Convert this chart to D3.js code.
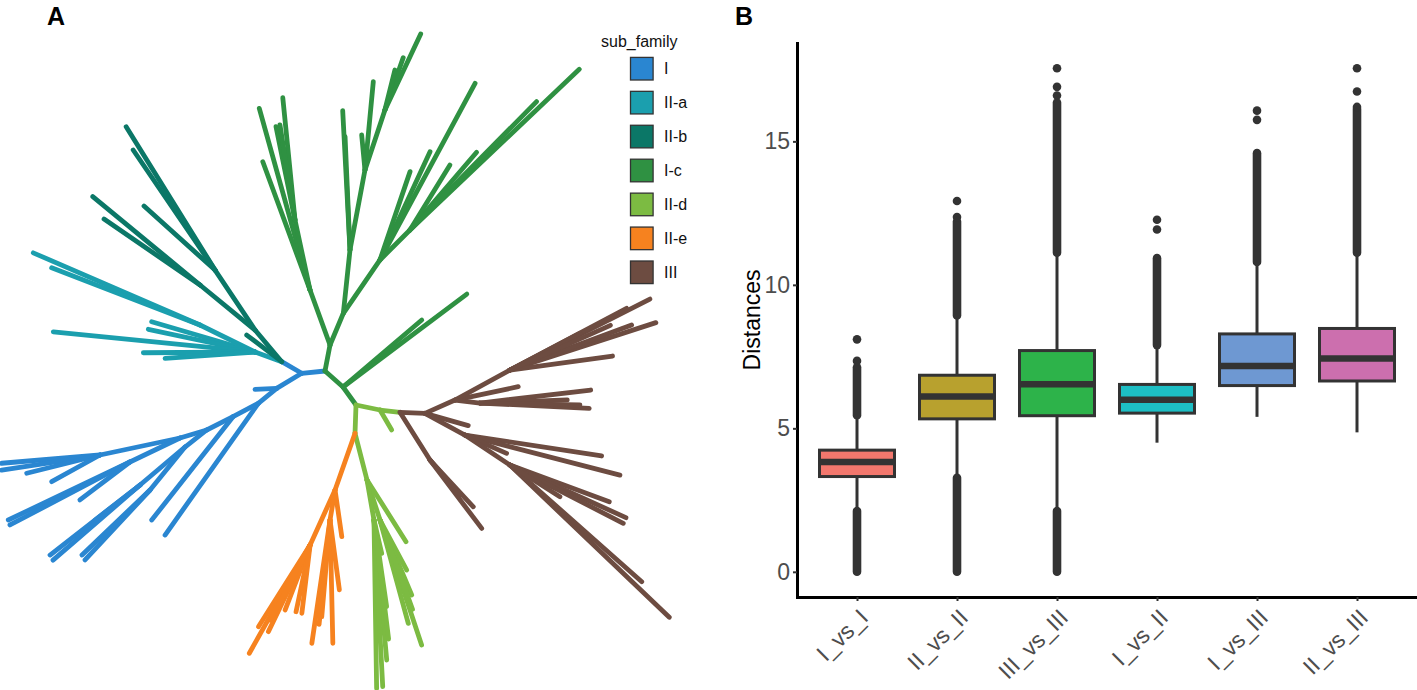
<!DOCTYPE html>
<html>
<head>
<meta charset="utf-8">
<script src="https://cdn.jsdelivr.net/npm/d3@7"></script>
<style>
  body { margin: 0; background: white; }
  text { font-family: "Liberation Sans", Arial, sans-serif; }
</style>
</head>
<body>
<main></main>
<script>
// ---- panel A: legend
var subFamilies = ["I", "II-a", "II-b", "I-c", "II-d", "II-e", "III"];
var subFamilyColors = ["#2A86D1", "#1B9FAE", "#0B7767", "#2F9142", "#7CBB42", "#F6821F", "#6D4C41"];

// ---- panel A: tree edges  [node, parent, branch length, angle (deg), sub_family]
var edgesI = [
    ["B0", "R", 0.234, 174.4, "I"], ["TA", "B0", 0.231, 210.1, "I"],
    ["B1", "B0", 0.292, 149, "I"], ["b1", "B1", 0.217, 177.4, "I"],
    ["B2", "B1", 0.237, 140.8, "I"], ["b2", "B2", 1.614, 125.3, "I"],
    ["B3", "B2", 0.286, 152.1, "I"], ["b3", "B3", 1.315, 128.2, "I"],
    ["B4", "B3", 0.295, 153.2, "I"],
    ["B5", "B4", 0.276, 141.9, "I"],
    ["B6", "B5", 0.589, 139.8, "I"], ["b4", "B6", 1.14, 142.1, "I"], ["b5", "B6", 1.149, 139.2, "I"],
    ["b4a", "B6", 0.57, 142, "I"],
    ["B7", "B5", 0.554, 129.1, "I"], ["b6", "B7", 0.941, 136.3, "I"], ["b7", "B7", 0.955, 132.9, "I"],
    ["B8", "B4", 0.279, 163.3, "I"],
    ["B9", "B8", 0.818, 168, "I"], ["b8", "B9", 0.986, 175.2, "I"], ["b9", "B9", 0.994, 171.3, "I"],
    ["b10", "B9", 0.755, 166, "I"], ["b11", "B9", 0.552, 151.1, "I"],
    ["B10", "B8", 0.555, 154.4, "I"], ["b12", "B10", 1.348, 154.5, "I"], ["b13", "B10", 1.355, 152.3, "I"],
    ["b14", "B10", 0.628, 142.8, "I"]
];
var edgesIIa = [
    ["TC", "TA", 0.284, 200, "II-a"], ["TD", "TC", 0.613, 206.1, "II-a"],
    ["ta1", "TD", 1.817, 203.4, "II-a"], ["ta2", "TD", 1.59, 201.1, "II-a"],
    ["ta3", "TC", 1.077, 196.3, "II-a"], ["ta4", "TC", 1.091, 192, "II-a"],
    ["ta5", "TC", 2.027, 185.7, "II-a"], ["ta6", "TC", 1.117, 179.6, "II-a"],
    ["ta7", "TC", 0.902, 176, "II-a"]
];
var edgesIIb = [
    ["tb0", "TA", 0.44, 217.3, "II-b"], ["T1", "TA", 0.414, 229.9, "II-b"],
    ["T2", "T1", 0.721, 236.3, "II-b"], ["tb1", "T2", 1.687, 238.2, "II-b"],
    ["tb2", "T2", 1.453, 235.7, "II-b"], ["tb3", "T2", 0.956, 222, "II-b"],
    ["T3", "T1", 0.711, 219.3, "II-b"], ["tb4", "T3", 1.39, 219.5, "II-b"],
    ["tb5", "T3", 1.165, 214.5, "II-b"]
];
var edgesIc = [
    ["G1", "R", 0.265, 280.9, "I-c"],
    ["GL1", "G1", 0.585, 250, "I-c"], ["gl1", "GL1", 1.886, 254.4, "I-c"], ["gl2", "GL1", 1.367, 249.8, "I-c"],
    ["GL2", "GL1", 0.716, 257.9, "I-c"], ["gl3", "GL2", 1.229, 264.3, "I-c"],
    ["gl4", "GL2", 0.952, 258.5, "I-c"], ["gl5", "GL2", 0.962, 261, "I-c"],
    ["G3", "G1", 0.344, 292.8, "I-c"],
    ["GM1", "G3", 0.637, 276, "I-c"], ["gm1", "GM1", 1.395, 267, "I-c"], ["gm2", "GM1", 1.134, 267.5, "I-c"],
    ["GM2", "GM1", 0.814, 280.6, "I-c"], ["gm3", "GM2", 0.887, 275.4, "I-c"], ["gm4", "GM2", 0.352, 264.6, "I-c"],
    ["GM3", "GM2", 0.632, 288.4, "I-c"], ["gm5", "GM3", 0.554, 289.3, "I-c"],
    ["gm6", "GM3", 0.84, 295.2, "I-c"], ["gm7", "GM3", 0.412, 284, "I-c"],
    ["GR1", "G3", 0.647, 304.5, "I-c"], ["gr1", "GR1", 2.006, 298.3, "I-c"],
    ["gr2", "GR1", 1.193, 294.8, "I-c"], ["gr3", "GR1", 0.933, 288.8, "I-c"],
    ["GR2", "GR1", 0.424, 315, "I-c"], ["gr4", "GR2", 2.334, 316.5, "I-c"],
    ["gr5", "GR2", 1.024, 310.6, "I-c"], ["gr6", "GR2", 0.763, 301.6, "I-c"], ["gr7", "GR2", 1.803, 314.6, "I-c"],
    ["G4", "R", 0.241, 41.6, "I-c"], ["g41", "G4", 1.548, 323.1, "I-c"], ["g42", "G4", 1.034, 319.6, "I-c"],
    ["G5", "G4", 0.222, 54.2, "I-c"]
];
var edgesIId = [
    ["L1", "G5", 0.245, 11.8, "II-d"], ["ld1", "L1", 0.232, 59.7, "II-d"], ["BR0", "L1", 0.201, 6.6, "II-d"],
    ["L2", "G5", 0.283, 92, "II-d"], ["L3", "L2", 0.482, 75.6, "II-d"], ["ld2", "L3", 0.73, 57.7, "II-d"],
    ["L4", "L3", 0.421, 72, "II-d"], ["ld3", "L4", 0.567, 61.9, "II-d"], ["ld4", "L4", 0.814, 67.1, "II-d"],
    ["ld5", "L4", 1.318, 71.6, "II-d"], ["ld6", "L4", 1.071, 74.7, "II-d"], ["ld12", "L4", 0.95, 70, "II-d"],
    ["L5", "L3", 0.406, 80.1, "II-d"], ["ld7", "L5", 0.342, 77, "II-d"], ["ld8", "L5", 0.876, 81.7, "II-d"],
    ["ld9", "L5", 1.406, 84.8, "II-d"], ["ld10", "L5", 1.683, 89.1, "II-d"], ["ld11", "L5", 1.669, 87, "II-d"],
    ["ld13", "L5", 1.2, 83, "II-d"]
];
var edgesIIe = [
    ["O1", "L2", 0.601, 109.4, "II-e"], ["O2", "O1", 0.604, 114.4, "II-e"],
    ["oe1", "O2", 1.242, 119.3, "II-e"], ["oe2", "O2", 0.967, 122.3, "II-e"], ["oe3", "O2", 0.962, 115.7, "II-e"],
    ["oe4", "O2", 0.696, 111, "II-e"], ["oe5", "O2", 0.682, 101.9, "II-e"], ["oe6", "O2", 0.688, 96.9, "II-e"],
    ["oe12", "O2", 0.85, 118, "II-e"],
    ["O3", "O1", 0.304, 99.5, "II-e"], ["oe7", "O3", 1.247, 98.4, "II-e"], ["oe8", "O3", 0.971, 94.9, "II-e"],
    ["oe9", "O3", 1.233, 88.7, "II-e"], ["oe10", "O3", 0.706, 82.4, "II-e"], ["oe13", "O3", 1.05, 96, "II-e"],
    ["oe11", "O1", 0.472, 81.8, "II-e"]
];
var edgesIII = [
    ["BR1", "BR0", 0.25, 2.3, "III"],
    ["BD1", "BR0", 0.564, 57.8, "III"], ["bd1", "BD1", 0.857, 52.9, "III"],
    ["bd2", "BD1", 0.637, 47.2, "III"], ["bd3", "BD1", 0.461, 49.4, "III"],
    ["BU1", "BR1", 0.328, 336.1, "III"], ["bu1", "BU1", 0.647, 348.1, "III"],
    ["BU2", "BU1", 0.626, 331.4, "III"], ["bu2", "BU2", 1.57, 333.1, "III"], ["bu3", "BU2", 1.32, 332.1, "III"],
    ["bu4", "BU2", 1.535, 342, "III"], ["bu5", "BU2", 1.298, 339.7, "III"], ["bu6", "BU2", 1.036, 352.2, "III"],
    ["bu7", "BU2", 0.79, 332.3, "III"], ["bu12", "BU2", 1.1, 336, "III"],
    ["BU3", "BU1", 0.252, 6.8, "III"], ["bu8", "BU3", 1.115, 353.3, "III"], ["bu9", "BU3", 1.094, 2.8, "III"],
    ["bu10", "BU3", 0.874, 358, "III"], ["bu11", "BU3", 1.0, 1.1, "III"],
    ["bx1", "BR1", 0.45, 15.9, "III"],
    ["BD2", "BR1", 0.455, 28.5, "III"], ["bd4", "BD2", 1.383, 8.7, "III"], ["bd5", "BD2", 1.601, 14.5, "III"],
    ["bd6", "BD2", 0.455, 23.7, "III"],
    ["BD3", "BD2", 0.541, 33.7, "III"], ["bd7", "BD3", 1.059, 20.3, "III"], ["bd8", "BD3", 1.274, 24.4, "III"],
    ["bd9", "BD3", 1.274, 27.2, "III"], ["bd10", "BD3", 2.204, 43.7, "III"], ["bd11", "BD3", 1.76, 41.5, "III"],
    ["bd12", "BD3", 0.592, 32.4, "III"]
];

// ---- panel B: pairwise distances
var comparisons = ["I_vs_I", "II_vs_II", "III_vs_III", "I_vs_II", "I_vs_III", "II_vs_III"];
var boxColors = ["#F2776D", "#B8A12E", "#2DB34A", "#1DBEC4", "#6E98D2", "#CC6FAE"];
var q1 = [3.32, 5.33, 5.44, 5.53, 6.49, 6.65];
var medians = [3.83, 6.11, 6.54, 6.00, 7.17, 7.43];
var q3 = [4.24, 6.85, 7.71, 6.53, 8.29, 8.48];
var whiskerLow = [2.12, 3.28, 2.12, 4.50, 5.40, 4.86];
var whiskerHigh = [5.46, 8.93, 11.12, 7.90, 10.80, 11.12];
// dense outlier stretches [from, to] and lone outliers
var outlierRuns = [
    [[0, 2.12], [5.46, 7.13]],
    [[0, 3.28], [8.93, 12.21]],
    [[0, 2.12], [11.12, 16.35]],
    [[7.90, 10.93]],
    [[10.80, 14.59]],
    [[11.12, 16.13]]
];
var outlierDots = [
    [7.35, 8.10],
    [12.36, 12.92],
    [16.6, 16.9, 17.55],
    [11.93, 12.27],
    [15.75, 16.07],
    [16.2, 16.74, 17.55]
];
var yTicks = [0, 5, 10, 15];

const WIDTH = 1417;
const HEIGHT = 690;
const FONT = '"Liberation Sans", Arial, sans-serif';

var svg = d3.select("main").append("svg")
            .attr("width", WIDTH)
            .attr("height", HEIGHT)
            .style("display", "block")
            .style("background", "white");

function drawTree () {
    var edges = [["R", null, 0, 0, "I-c"]].concat(edgesI, edgesIIa, edgesIIb, edgesIc, edgesIId, edgesIIe, edgesIII);
    var root = d3.stratify()
                 .id(function (d) { return d[0]; })
                 .parentId(function (d) { return d[1]; })(edges);

    var len = d3.scaleLinear().domain([0, 1]).range([0, 100]);
    var color = d3.scaleOrdinal().domain(subFamilies).range(subFamilyColors);

    // unrooted layout: every node hangs off its parent at its own angle
    root.x = 325;
    root.y = 371;
    root.eachBefore(function (n) {
        if (!n.parent) return;
        var a = n.data[3] * Math.PI / 180;
        n.x = n.parent.x + len(n.data[2]) * Math.cos(a);
        n.y = n.parent.y + len(n.data[2]) * Math.sin(a);
    });

    svg.append("g")
       .selectAll("line")
       .data(root.descendants().slice(1))
       .enter()
       .append("line")
       .attr("x1", function (d) { return d.parent.x; })
       .attr("y1", function (d) { return d.parent.y; })
       .attr("x2", function (d) { return d.x; })
       .attr("y2", function (d) { return d.y; })
       .style("stroke", function (d) { return color(d.data[4]); })
       .style("stroke-width", 4.8)
       .style("stroke-linecap", "round");
}

function drawLegend () {
    var ky = d3.scalePoint().domain(subFamilies).range([68.7, 272.3]);
    var g = svg.append("g");

    g.append("text")
     .attr("x", 601)
     .attr("y", 47)
     .style("font-size", "16px")
     .style("fill", "#111")
     .text("sub_family");

    g.selectAll("rect")
     .data(subFamilies)
     .enter()
     .append("rect")
     .attr("x", 630.5)
     .attr("y", function (d) { return ky(d) - 11.3; })
     .attr("width", 22.6)
     .attr("height", 22.6)
     .style("fill", function (d, i) { return subFamilyColors[i]; })
     .style("stroke", "#333")
     .style("stroke-width", 1.3);

    g.selectAll("text.lab")
     .data(subFamilies)
     .enter()
     .append("text")
     .attr("class", "lab")
     .attr("x", 664)
     .attr("y", function (d) { return ky(d); })
     .attr("dy", "0.36em")
     .style("font-size", "16px")
     .style("fill", "#111")
     .text(function (d) { return d; });
}

function drawBoxes () {
    var x = d3.scalePoint().domain(comparisons).range([797, 1417]).padding(0.6);
    var top = d3.max(outlierDots, function (d) { return d3.max(d); });
    var pad = top * 0.05;
    var y = d3.scaleLinear().domain([-pad, top + pad]).range([597, 43]);
    var boxW = x.step() * 0.75;
    var r = 4.3;

    var groups = svg.append("g")
                    .selectAll("g")
                    .data(comparisons)
                    .enter()
                    .append("g")
                    .attr("transform", function (d) { return "translate(" + x(d) + ",0)"; });

    // whiskers
    groups.append("line")
          .attr("y1", function (d, i) { return y(q3[i]); })
          .attr("y2", function (d, i) { return y(whiskerHigh[i]); })
          .style("stroke", "#333").style("stroke-width", 3);
    groups.append("line")
          .attr("y1", function (d, i) { return y(q1[i]); })
          .attr("y2", function (d, i) { return y(whiskerLow[i]); })
          .style("stroke", "#333").style("stroke-width", 3);

    // outliers
    groups.each(function (d, i) {
        var g = d3.select(this);
        g.selectAll("line.run")
         .data(outlierRuns[i])
         .enter()
         .append("line")
         .attr("class", "run")
         .attr("y1", function (v) { return y(v[0]); })
         .attr("y2", function (v) { return y(v[1]); })
         .style("stroke", "#333")
         .style("stroke-width", r * 2)
         .style("stroke-linecap", "round");
        g.selectAll("circle")
         .data(outlierDots[i])
         .enter()
         .append("circle")
         .attr("cy", function (v) { return y(v); })
         .attr("r", r)
         .style("fill", "#333");
    });

    // boxes and medians
    groups.append("rect")
          .attr("x", -boxW / 2)
          .attr("y", function (d, i) { return y(q3[i]); })
          .attr("width", boxW)
          .attr("height", function (d, i) { return y(q1[i]) - y(q3[i]); })
          .style("fill", function (d, i) { return boxColors[i]; })
          .style("stroke", "#333")
          .style("stroke-width", 3);
    groups.append("line")
          .attr("x1", -boxW / 2)
          .attr("x2", boxW / 2)
          .attr("y1", function (d, i) { return y(medians[i]); })
          .attr("y2", function (d, i) { return y(medians[i]); })
          .style("stroke", "#333")
          .style("stroke-width", 6.5);

    // axes
    var yAxis = svg.append("g")
                   .attr("transform", "translate(797,0)")
                   .call(d3.axisLeft(y).tickValues(yTicks).tickSize(4).tickSizeOuter(0).tickPadding(3));
    var xAxis = svg.append("g")
                   .attr("transform", "translate(0,597)")
                   .call(d3.axisBottom(x).tickSize(4).tickSizeOuter(0));

    [yAxis, xAxis].forEach(function (ax) {
        ax.attr("font-family", FONT).attr("font-size", 23);
        ax.select(".domain").style("stroke", "black").style("stroke-width", 3).style("stroke-linecap", "square");
        ax.selectAll(".tick line").style("stroke", "#333").style("stroke-width", 2);
        ax.selectAll(".tick text").style("fill", "#4D4D4D");
    });

    xAxis.selectAll(".tick text")
         .attr("y", null)
         .attr("dy", null)
         .attr("text-anchor", "end")
         .attr("transform", "translate(12,22) rotate(-45)");

    svg.append("text")
       .attr("transform", "translate(760,320) rotate(-90)")
       .attr("text-anchor", "middle")
       .style("font-size", "23px")
       .style("fill", "black")
       .text("Distances");
}

function drawPanelLabels () {
    svg.append("text").attr("x", 47).attr("y", 25)
       .style("font-size", "25px").style("font-weight", "bold").text("A");
    svg.append("text").attr("x", 735).attr("y", 25)
       .style("font-size", "25px").style("font-weight", "bold").text("B");
}

drawTree();
drawLegend();
drawBoxes();
drawPanelLabels();
</script>
</body>
</html>
